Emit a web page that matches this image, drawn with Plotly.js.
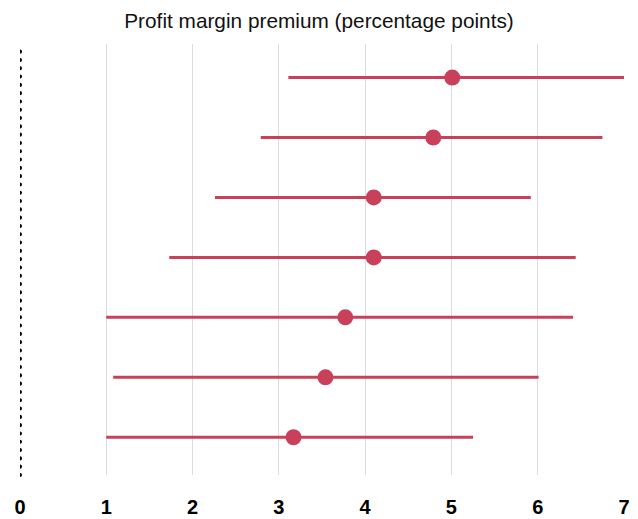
<!DOCTYPE html>
<html>
<head>
<meta charset="utf-8">
<script src="https://cdn.plot.ly/plotly-3.0.1.min.js"></script>
<style>
html,body{margin:0;padding:0;background:#fff;}
#chart{width:638px;height:519px;}
#chart .shapelayer path{stroke-linecap:round !important;}
</style>
</head>
<body>
<div id="chart"></div>
<script>
// Data
const rows = ['Row 1', 'Row 2', 'Row 3', 'Row 4', 'Row 5', 'Row 6', 'Row 7'];
const premium = [5.01, 4.79, 4.10, 4.10, 3.77, 3.54, 3.17];
const lower = [3.11, 2.79, 2.26, 1.73, 1.00, 1.08, 1.00];
const upper = [7.00, 6.75, 5.92, 6.44, 6.41, 6.01, 5.25];
const xTicks = [0, 1, 2, 3, 4, 5, 6, 7];

const red = '#c9405b';
const plus = premium.map((v, i) => upper[i] - v);
const minus = premium.map((v, i) => v - lower[i]);

const trace = {
  type: 'scatter',
  mode: 'markers',
  x: premium,
  y: rows,
  marker: {color: red, size: 16},
  error_x: {type: 'data', symmetric: false, array: plus, arrayminus: minus,
            color: red, thickness: 3, width: 0},
  hoverinfo: 'x'
};

const layout = {
  width: 638, height: 519,
  margin: {l: 20, r: 14, t: 44, b: 44},
  paper_bgcolor: '#fff', plot_bgcolor: '#fff',
  showlegend: false,
  title: {text: 'Profit margin premium (percentage points)',
          x: 0.5, xref: 'container', xanchor: 'center',
          y: 1 - 21 / 519, yref: 'container', yanchor: 'middle',
          font: {family: 'Liberation Sans, Arial, sans-serif', size: 20.8, color: '#111'}},
  xaxis: {
    range: [0, 7], tickvals: xTicks, ticktext: xTicks.map(String),
    showgrid: true, gridcolor: '#dcdcdc', gridwidth: 1,
    zeroline: true, zerolinecolor: '#ffffff', zerolinewidth: 2,
    showline: false, ticks: '', ticklabelstandoff: 18,
    tickfont: {family: 'Liberation Sans, Arial, sans-serif', size: 20, color: '#000', weight: 700},
    fixedrange: true
  },
  yaxis: {
    type: 'category', categoryorder: 'array', categoryarray: rows,
    range: [6.63, -0.56],
    showgrid: false, zeroline: false, showline: false, showticklabels: false, ticks: '',
    fixedrange: true
  },
  shapes: [{
    type: 'line', xref: 'x', yref: 'paper', x0: 0, x1: 0, y0: 0, y1: 1,
    line: {color: '#000', width: 4, dash: '0.1px,8.2px'}, layer: 'above'
  }]
};

Plotly.newPlot('chart', [trace], layout, {displayModeBar: false, staticPlot: true});
</script>
</body>
</html>
